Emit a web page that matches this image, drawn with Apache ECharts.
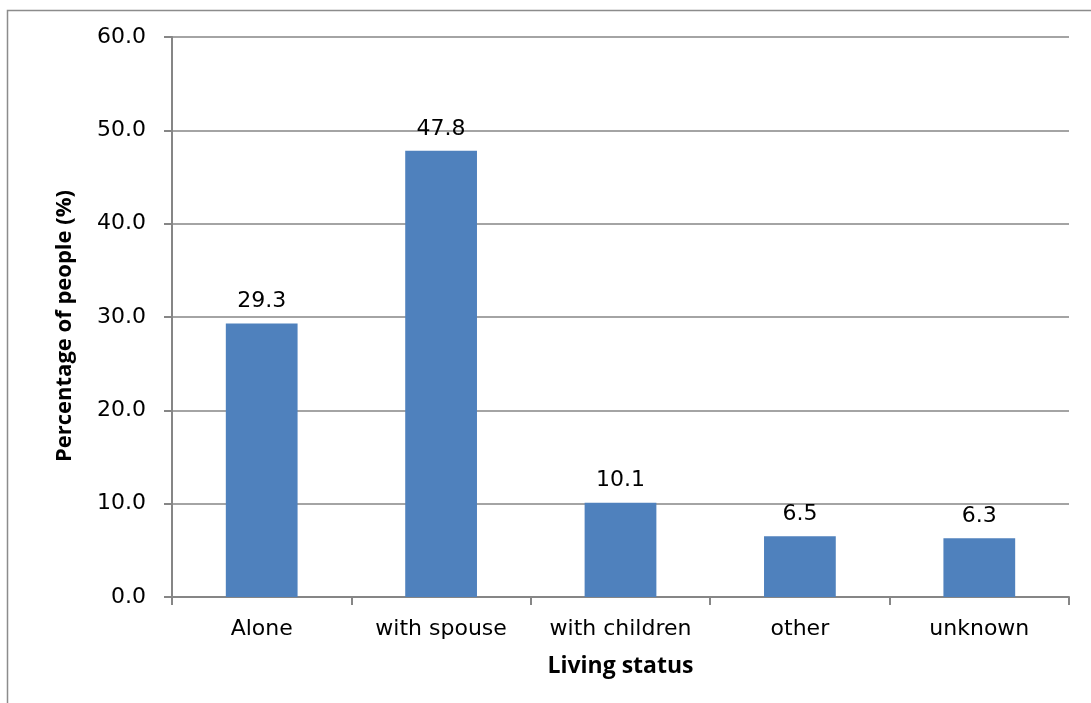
<!DOCTYPE html>
<html>
<head>
<meta charset="utf-8">
<script src="https://cdn.jsdelivr.net/npm/echarts@6/dist/echarts.min.js"></script>
<style>
  html, body { margin: 0; padding: 0; background: #fff; }
  #main { width: 1091px; height: 703px; }
</style>
</head>
<body>
<div id="main"></div>
<script>
// living status data
const categories = ["Alone", "with spouse", "with children", "other", "unknown"];
const percentages = [29.3, 47.8, 10.1, 6.5, 6.3];
const yTicks = [0, 10, 20, 30, 40, 50, 60];

const chart = echarts.init(document.getElementById("main"));

const labelFont = "DejaVu Sans";
const nameFont = "Open Sans";

const option = {
  animation: false,
  backgroundColor: "#fff",
  graphic: [
    {
      type: "rect",
      shape: { x: 7.5, y: 10.5, width: 1100, height: 720 },
      style: { fill: "none", stroke: "#8c8c8c", lineWidth: 1.5 },
    },
  ],
  grid: { left: 172, right: 22, top: 37, bottom: 106 },
  xAxis: {
    type: "category",
    data: categories,
    name: "Living status",
    nameLocation: "middle",
    nameGap: 58,
    nameTextStyle: { fontFamily: nameFont, fontWeight: "bold", fontSize: 23, color: "#000" },
    axisLine: { lineStyle: { color: "#868686", width: 2 } },
    axisTick: { show: true, interval: 0, length: 8, lineStyle: { color: "#868686", width: 2 } },
    axisLabel: { interval: 0, hideOverlap: false, fontFamily: labelFont, fontSize: 22, color: "#000", margin: 21 },
  },
  yAxis: {
    type: "value",
    min: yTicks[0],
    max: yTicks[yTicks.length - 1],
    interval: 10,
    name: "Percentage of people (%)",
    nameLocation: "middle",
    nameGap: 96,
    nameTextStyle: {
      fontFamily: nameFont,
      fontWeight: "bold",
      fontSize: 22,
      color: "#000",
      padding: [0, 18, 0, 0],
    },
    axisLine: { show: true, lineStyle: { color: "#868686", width: 2 } },
    axisTick: { show: true, length: 8, lineStyle: { color: "#868686", width: 2 } },
    axisLabel: {
      fontFamily: labelFont,
      fontSize: 22,
      color: "#000",
      margin: 26,
      formatter: (v) => v.toFixed(1),
    },
    splitLine: { lineStyle: { color: "#868686", width: 1.5 } },
  },
  series: [
    {
      type: "bar",
      data: percentages,
      barCategoryGap: "60%",
      itemStyle: { color: "#4F81BD" },
      label: {
        show: true,
        position: "top",
        distance: 11,
        fontFamily: labelFont,
        fontSize: 22,
        color: "#000",
        formatter: (p) => p.value.toFixed(1),
      },
    },
  ],
};

chart.setOption(option);
</script>
</body>
</html>
